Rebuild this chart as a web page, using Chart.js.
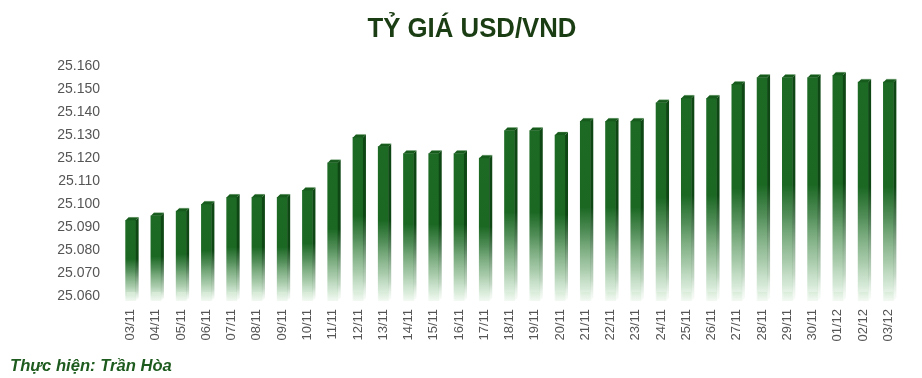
<!DOCTYPE html>
<html>
<head>
<meta charset="utf-8">
<script src="https://cdn.jsdelivr.net/npm/chart.js@4.4.1/dist/chart.umd.min.js"></script>
<style>
  html, body { margin: 0; padding: 0; background: #fff; }
  #wrap { position: relative; width: 922px; height: 378px; overflow: hidden; }
  #c { position: absolute; left: 0; top: 0; }
  #title { position: absolute; left: 272px; top: 12px; width: 400px; text-align: center; white-space: nowrap;
    font-family: "Liberation Sans", Arial, sans-serif; font-weight: bold; font-size: 28px; color: #1b3d13;
    transform: scaleX(0.92); transform-origin: center; }
  #footer { position: absolute; left: 10px; top: 356px; white-space: nowrap;
    font-family: "Liberation Sans", Arial, sans-serif; font-weight: bold; font-style: italic; font-size: 16.6px; color: #1e5b1e; }
</style>
</head>
<body>
<div id="wrap">
  <canvas id="c" width="922" height="378"></canvas>
  <div id="title">TỶ GIÁ USD/VND</div>
  <div id="footer">Thực hiện: Trần Hòa</div>
</div>
<script>
const dates = ['03/11','04/11','05/11','06/11','07/11','08/11','09/11','10/11','11/11','12/11','13/11','14/11','15/11','16/11','17/11','18/11','19/11','20/11','21/11','22/11','23/11','24/11','25/11','26/11','27/11','28/11','29/11','30/11','01/12','02/12','03/12'];
const rates = [25093,25095,25097,25100,25103,25103,25103,25106,25118,25129,25125,25122,25122,25122,25120,25132,25132,25130,25136,25136,25136,25144,25146,25146,25152,25155,25155,25155,25156,25153,25153];
const yTicks = [25060,25070,25080,25090,25100,25110,25120,25130,25140,25150,25160];

const DEPTH = 3;

function frontGradient(context) {
  const chart = context.chart;
  const area = chart.chartArea;
  if (!area || context.parsed === undefined) return '#1b6a23';
  const yScale = chart.scales.y;
  const top = yScale.getPixelForValue(context.parsed.y);
  const bottom = area.bottom;
  const g = chart.ctx.createLinearGradient(0, top, 0, bottom);
  g.addColorStop(0, '#1c6a24');
  g.addColorStop(0.48, '#1b6823');
  g.addColorStop(0.62, 'rgba(40,115,48,0.8)');
  g.addColorStop(0.82, 'rgba(80,150,85,0.5)');
  g.addColorStop(0.93, 'rgba(150,200,155,0.4)');
  g.addColorStop(1, 'rgba(200,230,200,0.2)');
  return g;
}

const bar3d = {
  id: 'bar3d',
  afterDatasetsDraw(chart) {
    const ctx = chart.ctx;
    const area = chart.chartArea;
    const meta = chart.getDatasetMeta(0);
    meta.data.forEach((bar) => {
      const p = bar.getProps(['x', 'y', 'base', 'width'], true);
      const l = p.x - p.width / 2, r = p.x + p.width / 2;
      const top = p.y, base = Math.min(p.base, area.bottom);
      // side face
      const sg = ctx.createLinearGradient(0, top, 0, base);
      sg.addColorStop(0, '#0e4714');
      sg.addColorStop(0.48, '#0e4714');
      sg.addColorStop(0.65, 'rgba(20,80,28,0.7)');
      sg.addColorStop(0.88, 'rgba(80,140,85,0.35)');
      sg.addColorStop(1, 'rgba(200,230,200,0.1)');
      ctx.save();
      ctx.fillStyle = sg;
      ctx.beginPath();
      ctx.moveTo(r, top);
      ctx.lineTo(r + DEPTH, top - DEPTH);
      ctx.lineTo(r + DEPTH, base - DEPTH);
      ctx.lineTo(r, base);
      ctx.closePath();
      ctx.fill();
      // top cap
      ctx.fillStyle = '#165a1c';
      ctx.beginPath();
      ctx.moveTo(l, top);
      ctx.lineTo(l + DEPTH, top - DEPTH);
      ctx.lineTo(r + DEPTH, top - DEPTH);
      ctx.lineTo(r, top);
      ctx.closePath();
      ctx.fill();
      ctx.strokeStyle = 'rgba(120,170,120,0.6)';
      ctx.lineWidth = 0.6;
      ctx.beginPath();
      ctx.moveTo(l + DEPTH, top - DEPTH);
      ctx.lineTo(r + DEPTH, top - DEPTH);
      ctx.stroke();
      // light base
      const bg = ctx.createLinearGradient(0, base - 9, 0, base);
      bg.addColorStop(0, 'rgba(215,235,215,0.9)');
      bg.addColorStop(1, 'rgba(235,245,235,0.2)');
      ctx.fillStyle = bg;
      ctx.fillRect(l + 1, base - 9, r - l - 1, 9);
      ctx.restore();
    });
  }
};

new Chart(document.getElementById('c'), {
  type: 'bar',
  data: {
    labels: dates,
    datasets: [{
      data: rates,
      backgroundColor: frontGradient,
      borderWidth: 0,
      barThickness: 10
    }]
  },
  options: {
    responsive: false,
    animation: false,
    layout: { padding: { top: 66, right: 21, bottom: 27, left: 0 } },
    plugins: { legend: { display: false }, tooltip: { enabled: false }, title: { display: false } },
    scales: {
      x: {
        grid: { display: false },
        border: { display: false },
        ticks: {
          minRotation: 90, maxRotation: 90, autoSkip: false, padding: 0,
          color: '#555', font: { family: 'Liberation Sans', size: 13 }
        },
        afterFit(scale) { scale.height = 50; }
      },
      y: {
        min: 25058,
        max: 25160,
        grid: { display: false },
        border: { display: false },
        afterBuildTicks(scale) { scale.ticks = yTicks.map(v => ({ value: v })); },
        ticks: {
          padding: 10,
          color: '#555',
          font: { family: 'Liberation Sans', size: 14 },
          callback: (v) => Number(v).toLocaleString('de-DE')
        },
        afterFit(scale) { scale.width = 118; }
      }
    }
  },
  plugins: [bar3d]
});
</script>
</body>
</html>
